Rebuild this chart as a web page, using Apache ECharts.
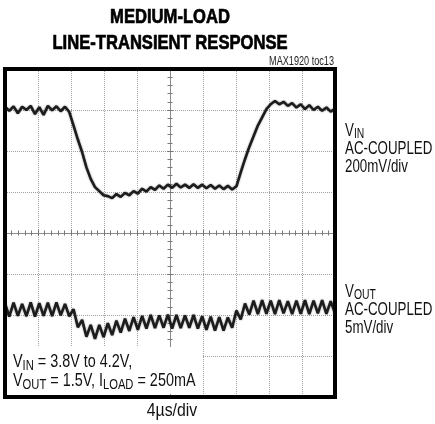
<!DOCTYPE html>
<html>
<head>
<meta charset="utf-8">
<script src="https://cdn.jsdelivr.net/npm/echarts@6/dist/echarts.min.js"></script>
<style>
  html, body { margin: 0; padding: 0; background: #fff; }
  #chart { width: 435px; height: 424px; }
</style>
</head>
<body>
<div id="chart"></div>
<script>
// scope trace in divisions (10 x 8 grid)
const xDivs = 10;
const yDivs = 8;
const sampleCount = 78;

const vin = [
  7.08, 6.98, 7.09, 6.92, 7.08, 7.00, 7.10, 6.90, 7.07, 6.88,
  7.10, 6.99, 7.09, 6.97, 7.08, 6.95, 6.62, 6.28, 5.97, 5.60,
  5.32, 5.12, 5.02, 4.92, 4.90, 4.85, 4.95, 4.88, 4.98, 4.92,
  5.02, 4.96, 5.08, 5.01, 5.12, 5.05, 5.16, 5.08, 5.18, 5.10,
  5.20, 5.11, 5.18, 5.10, 5.19, 5.10, 5.18, 5.09, 5.17, 5.08,
  5.16, 5.07, 5.15, 5.06, 5.14, 5.48, 5.80, 6.10, 6.36, 6.62,
  6.82, 7.02, 7.14, 7.22, 7.14, 7.20, 7.10, 7.17, 7.06, 7.14,
  7.02, 7.12, 7.00, 7.08, 6.98, 7.06, 6.96, 7.03
];

const vout = [
  2.28, 1.96, 2.30, 1.98, 2.27, 1.97, 2.31, 1.96, 2.29, 1.98,
  2.30, 1.97, 2.31, 1.99, 2.27, 1.97, 2.14, 1.70, 1.88, 1.47,
  1.76, 1.42, 1.76, 1.46, 1.80, 1.51, 1.86, 1.57, 1.91, 1.61,
  1.95, 1.64, 1.98, 1.67, 2.00, 1.68, 1.99, 1.69, 2.01, 1.67,
  2.00, 1.68, 1.99, 1.69, 2.00, 1.67, 1.97, 1.64, 1.96, 1.62,
  1.95, 1.62, 1.94, 1.69, 2.11, 1.89, 2.28, 2.01, 2.35, 2.02,
  2.36, 2.03, 2.35, 2.02, 2.36, 2.04, 2.34, 2.02, 2.35, 2.03,
  2.36, 2.02, 2.35, 2.04, 2.36, 2.03, 2.34, 2.04
];

const titleLines = ['MEDIUM-LOAD', 'LINE-TRANSIENT RESPONSE'];
const figId = 'MAX1920 toc13';
const timeScale = '4\u00b5s/div';
const vinLabel = ['V{s|IN}', 'AC-COUPLED', '200mV/div'];
const voutLabel = ['V{s|OUT}', 'AC-COUPLED', '5mV/div'];
const conditions = ['V{s|IN} = 3.8V to 4.2V,', 'V{s|OUT} = 1.5V, I{s|LOAD} = 250mA'];

const sans = "'Liberation Sans', Arial, sans-serif";
const step = xDivs / (sampleCount - 1);
const toPairs = arr => arr.map((v, i) => [i * step, v]);

const chart = echarts.init(document.getElementById('chart'));

const gridBox = { left: 5, top: 69, width: 330, height: 328 };
const dotted = { type: 'dotted', color: '#a0a0a0', width: 1 };

function centerAxis(kind, inside) {
  const isX = kind === 'x';
  return {
    type: 'value',
    min: 0,
    max: isX ? xDivs : yDivs,
    interval: 1,
    position: isX ? 'bottom' : 'left',
    offset: isX ? -gridBox.height / 2 : -gridBox.width / 2,
    axisLine: { show: true, onZero: false, lineStyle: { color: '#8a8a8a', width: 1 } },
    axisTick: { show: true, inside: inside, length: 3, lineStyle: { color: '#777' } },
    minorTick: { show: true, splitNumber: 5, length: 2.5, lineStyle: { color: '#777' } },
    axisLabel: { show: false },
    splitLine: { show: false }
  };
}

const sub = { fontSize: 14, fontFamily: sans, padding: [7, 0, 0, 0] };

// condensed look: Liberation Sans squeezed horizontally
function label(x, y, lines, size, lh, sx, z) {
  return {
    type: 'text', x: x, y: y, scaleX: sx, z: z || 10,
    style: {
      text: lines.join('\n'), rich: { s: sub },
      fontSize: size, fontFamily: sans, fill: '#111',
      lineHeight: lh, verticalAlign: 'top'
    }
  };
}

const trace = { color: '#1c1c1c', width: 2.6, shadowBlur: 2, shadowColor: 'rgba(0,0,0,0.45)' };

chart.setOption({
  animation: false,
  backgroundColor: '#fff',
  grid: Object.assign({ show: true, borderColor: '#000', borderWidth: 4, z: 4 }, gridBox),
  xAxis: [
    {
      type: 'value', min: 0, max: xDivs, interval: 1,
      axisLine: { show: false }, axisTick: { show: false }, axisLabel: { show: false },
      splitLine: { show: true, showMinLine: false, showMaxLine: false, lineStyle: dotted }
    },
    centerAxis('x', true),
    centerAxis('x', false)
  ],
  yAxis: [
    {
      type: 'value', min: 0, max: yDivs, interval: 1,
      axisLine: { show: false }, axisTick: { show: false }, axisLabel: { show: false },
      splitLine: { show: true, showMinLine: false, showMaxLine: false, lineStyle: dotted }
    },
    centerAxis('y', true),
    centerAxis('y', false)
  ],
  series: [
    { name: 'VIN', type: 'line', data: toPairs(vin), showSymbol: false, lineStyle: trace, z: 3 },
    { name: 'VOUT', type: 'line', data: toPairs(vout), showSymbol: false, lineStyle: trace, z: 3 }
  ],
  graphic: [
    {
      type: 'text', x: 170, y: 4, scaleX: 0.79, z: 10,
      style: {
        text: titleLines.join('\n'),
        font: "bold 21px 'Liberation Sans', Arial, sans-serif",
        fill: '#000', stroke: '#000', lineWidth: 0.7,
        align: 'center', verticalAlign: 'top', lineHeight: 26
      }
    },
    {
      type: 'text', x: 334, y: 56, scaleX: 0.76, z: 10,
      style: {
        text: figId, fontSize: 12, fontFamily: sans, fill: '#222',
        align: 'right', verticalAlign: 'top'
      }
    },
    label(345, 122, vinLabel, 18, 18, 0.74),
    label(345, 283, voutLabel, 18, 18, 0.74),
    {
      type: 'rect', z: 10,
      shape: { x: 7, y: 347, width: 196, height: 47 },
      style: { fill: '#fff' }
    },
    label(13, 353, conditions, 18, 19, 0.8, 11),
    {
      type: 'text', x: 172, y: 402, scaleX: 0.88, z: 10,
      style: { text: timeScale, fontSize: 18, fontFamily: sans, fill: '#111', align: 'center', verticalAlign: 'top' }
    }
  ]
});
</script>
</body>
</html>
